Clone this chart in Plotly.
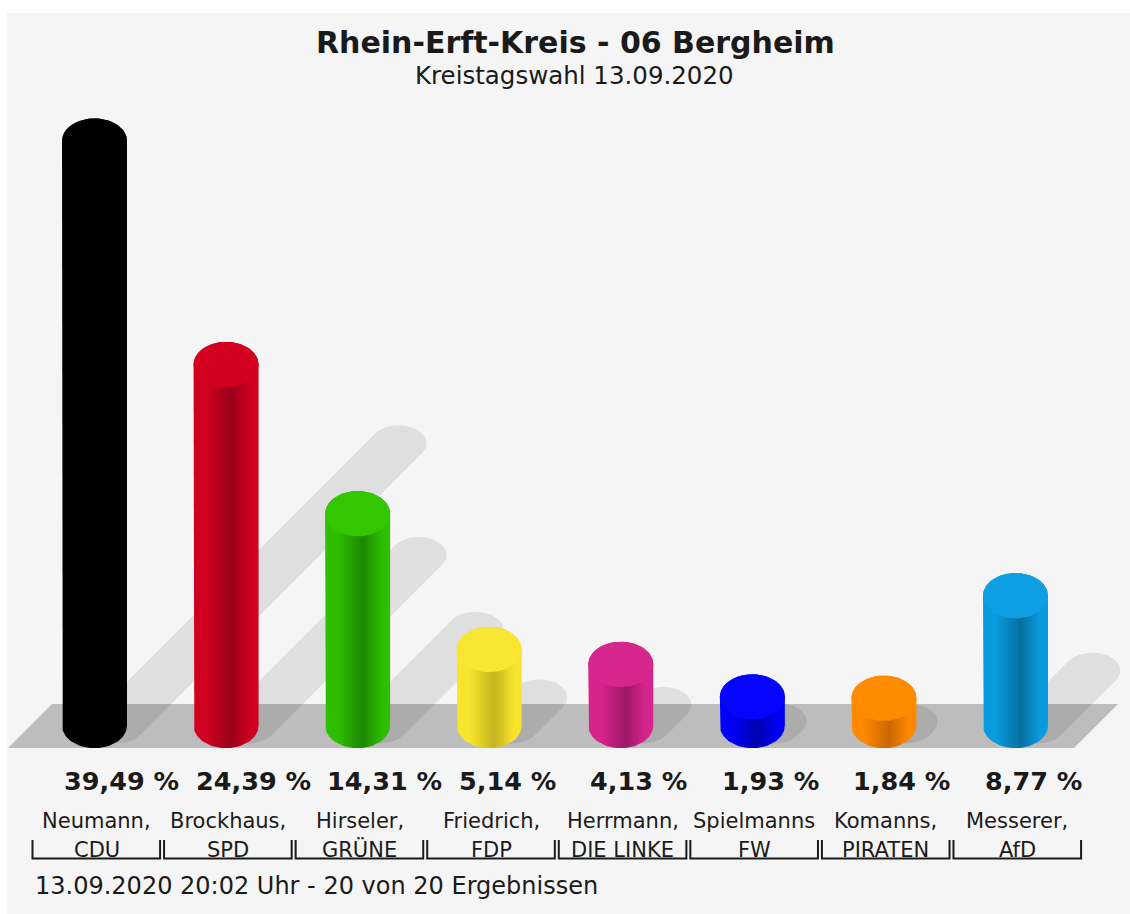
import numpy as np
import plotly.graph_objects as go

# ---------------- data ----------------
candidates = ["Neumann,", "Brockhaus,", "Hirseler,", "Friedrich,", "Herrmann,",
              "Spielmanns", "Komanns,", "Messerer,"]
parties = ["CDU", "SPD", "GRÜNE", "FDP", "DIE LINKE", "FW", "PIRATEN", "AfD"]
values = [39.49, 24.39, 14.31, 5.14, 4.13, 1.93, 1.84, 8.77]

edge_colors = ["#000000", "#cf0020", "#2ebd00", "#f7e42c", "#d5248c", "#0000f5", "#ff8800", "#0a9ade"]
core_colors = ["#000000", "#98001a", "#1c8800", "#c6b420", "#9c1866", "#0000b0", "#c86800", "#05709f"]
cap_colors = ["#000000", "#d3001f", "#33c700", "#f9e633", "#d8268f", "#0505ff", "#ff8b00", "#0d9fe2"]

title = "Rhein-Erft-Kreis - 06 Bergheim"
subtitle = "Kreistagswahl 13.09.2020"
footer = "13.09.2020 20:02 Uhr - 20 von 20 Ergebnissen"

# ---------------- layout geometry ----------------
PAGE_W, PAGE_H = 1130, 914
W, H = PAGE_W, PAGE_H
PLOT_L, PLOT_T = 7, 13            # page coords of plot area's top-left
ML, MT = PLOT_L, PLOT_T
BAR0_PX, BAR_STEP_PX = 94.5, 131.57  # page x of first bar centre, spacing
BASE_PY, UNIT_PY = 725.5, 14.8       # page y of cylinder base, px per %

XR = ((PLOT_L - BAR0_PX) / BAR_STEP_PX, (PAGE_W - BAR0_PX) / BAR_STEP_PX)
YR = (-(PAGE_H - BASE_PY) / UNIT_PY, (BASE_PY - PLOT_T) / UNIT_PY)
PXX = (PAGE_W - PLOT_L) / (XR[1] - XR[0])
PXY = (PAGE_H - PLOT_T) / (YR[1] - YR[0])


def dx(px):
    return px / PXX


def dy(px):
    return px / PXY


def ypage(py):
    """page pixel y -> data y"""
    return (BASE_PY - py) / PXY


def paper_x(px):
    return (px - PLOT_L) / (PAGE_W - PLOT_L)


def paper_y(py):
    return (PAGE_H - py) / (PAGE_H - PLOT_T)


BAR_RX = dx(32.5)
CAP_RY = dy(22.7)
n = len(values)


def arc(cx, cy, rx, ry, t0, t1, m=60):
    t = np.linspace(t0, t1, m)
    return cx + rx * np.cos(t), cy + ry * np.sin(t)


def hull(pts):
    pts = sorted(set(map(tuple, pts)))

    def cross(o, a, b):
        return (a[0] - o[0]) * (b[1] - o[1]) - (a[1] - o[1]) * (b[0] - o[0])
    lower, upper = [], []
    for p in pts:
        while len(lower) >= 2 and cross(lower[-2], lower[-1], p) <= 0:
            lower.pop()
        lower.append(p)
    for p in reversed(pts):
        while len(upper) >= 2 and cross(upper[-2], upper[-1], p) <= 0:
            upper.pop()
        upper.append(p)
    return lower[:-1] + upper[:-1]


fig = go.Figure()

# floor
fx = [0 - dx(86.5), 0 - dx(42.5), (n - 1) + dx(102.5), (n - 1) + dx(58.5)]
fy = [-dy(22.5), dy(21.5), dy(21.5), -dy(22.5)]
fig.add_trace(go.Scatter(x=fx, y=fy, fill="toself", mode="lines",
                         line=dict(width=0), fillcolor="#bdbdbd",
                         hoverinfo="skip", showlegend=False))

# shadows
for i, v in enumerate(values):
    e_hb = max(0.5 * v * PXY - 10, 0)  # px above base
    pts = []
    for (cxp, cyp) in [(22, 0), (22 + e_hb, e_hb)]:
        t = np.linspace(0, 2 * np.pi, 90, endpoint=False)
        for a in t:
            pts.append((round(cxp + 28 * np.cos(a), 3), round(cyp + 18 * np.sin(a), 3)))
    hp = hull(pts)
    sx = [i + dx(p[0]) for p in hp]
    sy = [dy(p[1]) for p in hp]
    fig.add_trace(go.Scatter(x=sx, y=sy, fill="toself", mode="lines",
                             line=dict(width=0), fillcolor="rgba(0,0,0,0.085)",
                             hoverinfo="skip", showlegend=False))

# cylinder bodies and caps
for i, v in enumerate(values):
    bx, by = arc(i, 0, BAR_RX, CAP_RY, np.pi, 2 * np.pi)
    tx, ty = arc(i, v, BAR_RX, CAP_RY, 0, np.pi)
    px_ = np.concatenate([[i - BAR_RX], bx, [i + BAR_RX], tx])
    py_ = np.concatenate([[v], by, [v], ty])
    e, c = edge_colors[i], core_colors[i]
    fig.add_trace(go.Scatter(
        x=px_, y=py_, fill="toself", mode="lines", line=dict(width=0),
        fillcolor=e,
        fillgradient=dict(type="horizontal",
                          colorscale=[[0, e], [0.2, e], [0.58, c], [0.88, e], [1, e]]),
        hoverinfo="skip", showlegend=False))
    cx_, cy_ = arc(i, v, BAR_RX, CAP_RY, 0, 2 * np.pi, 90)
    fig.add_trace(go.Scatter(x=cx_, y=cy_, fill="toself", mode="lines",
                             line=dict(width=0), fillcolor=cap_colors[i],
                             hoverinfo="skip", showlegend=False))

annotations = []
shapes = []
for i, v in enumerate(values):
    label = f"{v:.2f}".replace(".", ",") + " %"
    annotations.append(dict(x=i - BAR_RX, y=ypage(781), xref="x", yref="y",
                            text=label, showarrow=False, xanchor="left", yanchor="middle",
                            font=dict(family="DejaVu Sans", size=25.5, weight="bold", color="#1a1a1a")))
    annotations.append(dict(x=i + dx(2), y=ypage(821), xref="x", yref="y",
                            text=candidates[i], showarrow=False, xanchor="center", yanchor="middle",
                            font=dict(family="DejaVu Sans", size=21, color="#1a1a1a")))
    annotations.append(dict(x=i + dx(2), y=ypage(849.5), xref="x", yref="y",
                            text=parties[i], showarrow=False, xanchor="center", yanchor="middle",
                            font=dict(family="DejaVu Sans", size=21, color="#1a1a1a")))
    left, right = i - dx(62), i + dx(65.6)
    yl, yt = ypage(858.5), ypage(840)
    shapes.append(dict(type="path", xref="x", yref="y",
                       path=f"M {left},{yt} L {left},{yl} L {right},{yl} L {right},{yt}",
                       line=dict(color="#1a1a1a", width=2)))

annotations.append(dict(x=paper_x(575), y=paper_y(42), xref="paper", yref="paper",
                        text=title, showarrow=False, xanchor="center", yanchor="middle",
                        font=dict(family="DejaVu Sans", size=30, weight="bold", color="#1a1a1a")))
annotations.append(dict(x=paper_x(574), y=paper_y(75), xref="paper", yref="paper",
                        text=subtitle, showarrow=False, xanchor="center", yanchor="middle",
                        font=dict(family="DejaVu Sans", size=24.5, color="#1a1a1a")))
annotations.append(dict(x=paper_x(33), y=paper_y(886), xref="paper", yref="paper",
                        text=footer, showarrow=False, xanchor="left", yanchor="middle",
                        font=dict(family="DejaVu Sans", size=24, color="#1a1a1a")))

fig.update_layout(
    width=W, height=H,
    margin=dict(l=ML, r=0, t=MT, b=0, pad=0),
    paper_bgcolor="#ffffff", plot_bgcolor="#f5f5f5",
    xaxis=dict(range=list(XR), visible=False, fixedrange=True),
    yaxis=dict(range=list(YR), visible=False, fixedrange=True),
    annotations=annotations, shapes=shapes, showlegend=False,
)

fig.write_html("out.html", config={"displayModeBar": False},
               post_script="document.body.style.margin='0';document.body.style.overflow='hidden';")
